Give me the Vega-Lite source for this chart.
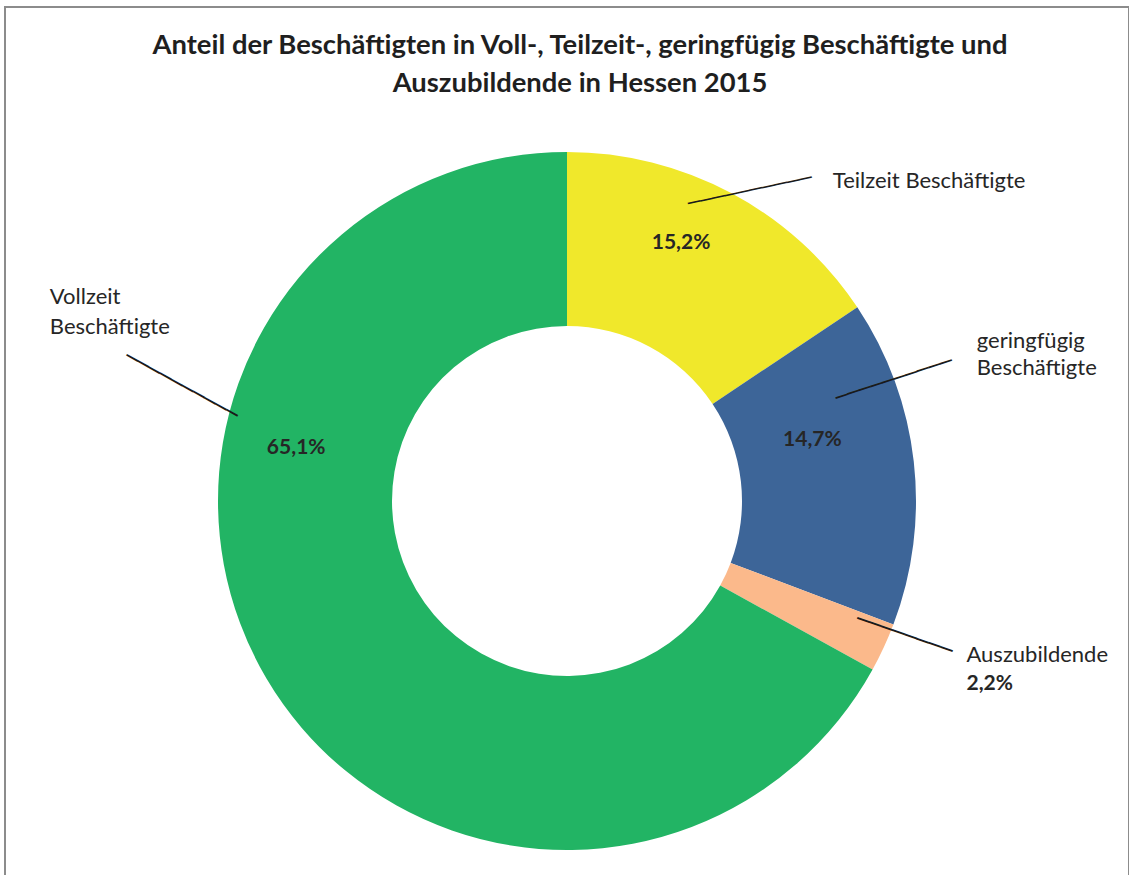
{
  "$schema": "https://vega.github.io/schema/vega-lite/v6.json",
  "width": 1124,
  "height": 988,
  "autosize": {"type": "none"},
  "padding": {"left": 5, "top": 7, "right": 0, "bottom": 0},
  "background": "white",
  "view": {"stroke": "#8c8c8c", "strokeWidth": 2},
  "config": {
    "view": {"stroke": "#8c8c8c", "strokeWidth": 2},
    "locale": {"number": {"decimal": ",", "thousands": ".", "grouping": [3], "currency": ["", " €"]}}
  },
  "title": {
    "text": ["Anteil der Beschäftigten in Voll-, Teilzeit-, geringfügig Beschäftigte und", "Auszubildende in Hessen 2015"],
    "font": "Lato",
    "fontSize": 27.4,
    "fontWeight": "bold",
    "color": "#1f1f1f",
    "anchor": "middle",
    "frame": "group",
    "orient": "top",
    "baseline": "alphabetic",
    "offset": 0,
    "dy": 112,
    "dx": 13,
    "lineHeight": 37.5
  },
  "data": {
    "values": [
      {"cat": "Teilzeit Beschäftigte", "key": "T", "rank": 1, "value": 0.152},
      {"cat": "geringfügig Beschäftigte", "key": "G", "rank": 2, "value": 0.147},
      {"cat": "Auszubildende", "key": "A", "rank": 3, "value": 0.022},
      {"cat": "Vollzeit Beschäftigte", "key": "V", "rank": 4, "value": 0.651}
    ]
  },
  "encoding": {
    "theta": {"field": "value", "type": "quantitative", "stack": true},
    "order": {"field": "rank", "type": "quantitative"},
    "detail": {"field": "cat", "type": "nominal"}
  },
  "layer": [
    {
      "mark": {"type": "arc", "innerRadius": 175, "outerRadius": 349},
      "encoding": {
        "color": {
          "field": "cat",
          "type": "nominal",
          "scale": {
            "domain": ["Teilzeit Beschäftigte", "geringfügig Beschäftigte", "Auszubildende", "Vollzeit Beschäftigte"],
            "range": ["#F0E82B", "#3D6598", "#FBB98B", "#22B464"]
          },
          "legend": null
        }
      }
    },
    {
      "mark": {"type": "text", "radius": {"expr": "datum.key === 'T' ? 282 : 0"}, "dx": -19, "dy": -3, "align": "center", "baseline": "alphabetic", "font": "Lato", "fontSize": 21, "fontWeight": "bold", "color": "#262626"},
      "encoding": {"text": {"condition": {"test": "datum.key === 'T'", "field": "value", "format": ".1%"}, "value": ""}}
    },
    {
      "mark": {"type": "text", "radius": {"expr": "datum.key === 'G' ? 252 : 0"}, "dx": -5, "dy": -27, "align": "center", "baseline": "alphabetic", "font": "Lato", "fontSize": 21, "fontWeight": "bold", "color": "#262626"},
      "encoding": {"text": {"condition": {"test": "datum.key === 'G'", "field": "value", "format": ".1%"}, "value": ""}}
    },
    {
      "mark": {"type": "text", "radius": {"expr": "datum.key === 'V' ? 275 : 0"}, "dx": -34, "dy": -187, "align": "center", "baseline": "alphabetic", "font": "Lato", "fontSize": 21, "fontWeight": "bold", "color": "#262626"},
      "encoding": {"text": {"condition": {"test": "datum.key === 'V'", "field": "value", "format": ".1%"}, "value": ""}}
    },
    {
      "mark": {"type": "text", "radius": {"expr": "datum.key === 'A' ? 363 : 0"}, "dx": 70, "dy": 37, "align": "left", "baseline": "alphabetic", "font": "Lato", "fontSize": 21, "fontWeight": "bold", "color": "#262626"},
      "encoding": {"text": {"condition": {"test": "datum.key === 'A'", "field": "value", "format": ".1%"}, "value": ""}}
    },
    {
      "mark": {"type": "text", "radius": {"expr": "datum.key === 'T' ? 360 : 0"}, "dx": 96, "dy": 4, "align": "left", "baseline": "alphabetic", "font": "Lato", "fontSize": 22, "color": "#262626"},
      "encoding": {"text": {"condition": {"test": "datum.key === 'T'", "field": "cat"}, "value": ""}}
    },
    {
      "mark": {"type": "text", "radius": {"expr": "datum.key === 'G' ? 349 : 0"}, "dx": 63, "dy": -114, "align": "left", "baseline": "alphabetic", "font": "Lato", "fontSize": 22, "color": "#262626", "lineBreak": " ", "lineHeight": 27},
      "encoding": {"text": {"condition": {"test": "datum.key === 'G'", "field": "cat"}, "value": ""}}
    },
    {
      "mark": {"type": "text", "radius": {"expr": "datum.key === 'A' ? 363 : 0"}, "dx": 70, "dy": 8.5, "align": "left", "baseline": "alphabetic", "font": "Lato", "fontSize": 22, "color": "#262626"},
      "encoding": {"text": {"condition": {"test": "datum.key === 'A'", "field": "cat"}, "value": ""}}
    },
    {
      "mark": {"type": "text", "radius": {"expr": "datum.key === 'V' ? 402 : 0"}, "dx": -171, "dy": -401, "align": "left", "baseline": "alphabetic", "font": "Lato", "fontSize": 22, "color": "#262626", "lineBreak": " ", "lineHeight": 30},
      "encoding": {"text": {"condition": {"test": "datum.key === 'V'", "field": "cat"}, "value": ""}}
    },
    {
      "mark": {"type": "text", "radius": {"expr": "datum.key === 'T' ? 360 : 0"}, "angle": -12.1, "dx": 11.3, "dy": 10.5, "align": "center", "baseline": "middle", "font": "DejaVu Sans Mono", "fontSize": 21, "color": "#1a1a1a"},
      "encoding": {"text": {"condition": {"test": "datum.key === 'T'", "value": "──────────"}, "value": ""}}
    },
    {
      "mark": {"type": "text", "radius": {"expr": "datum.key === 'G' ? 349 : 0"}, "angle": -18.1, "dx": 6.6, "dy": -83.7, "align": "center", "baseline": "middle", "font": "DejaVu Sans Mono", "fontSize": 20.3, "color": "#1a1a1a"},
      "encoding": {"text": {"condition": {"test": "datum.key === 'G'", "value": "──────────"}, "value": ""}}
    },
    {
      "mark": {"type": "text", "radius": {"expr": "datum.key === 'A' ? 363 : 0"}, "angle": 19.2, "dx": 1.7, "dy": -19.4, "align": "center", "baseline": "middle", "font": "DejaVu Sans Mono", "fontSize": 20.9, "color": "#1a1a1a"},
      "encoding": {"text": {"condition": {"test": "datum.key === 'A'", "value": "────────"}, "value": ""}}
    },
    {
      "mark": {"type": "text", "radius": {"expr": "datum.key === 'V' ? 402 : 0"}, "angle": 28.8, "dx": -188.1, "dy": -260.5, "align": "center", "baseline": "middle", "font": "DejaVu Sans Mono", "fontSize": 21, "color": "#1a1a1a"},
      "encoding": {"text": {"condition": {"test": "datum.key === 'V'", "value": "──────────"}, "value": ""}}
    }
  ]
}
